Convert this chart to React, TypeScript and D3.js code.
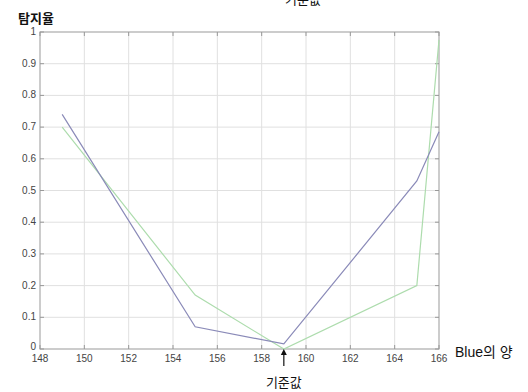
import * as d3 from "d3";
import { useEffect, useRef } from "react";

const blueX = [149, 155, 159, 165, 166];
const blueY = [0.74, 0.07, 0.016, 0.53, 0.685];
const greenX = [149, 155, 159, 165, 166];
const greenY = [0.7, 0.17, 0, 0.2, 0.975];
const xTicks = [148, 150, 152, 154, 156, 158, 160, 162, 164, 166];
const yTicks = [0, 0.1, 0.2, 0.3, 0.4, 0.5, 0.6, 0.7, 0.8, 0.9, 1];
const refValue = 159;

const App = () => {
  const width = 528;
  const height = 392;
  const margin = { top: 32, bottom: 43, right: 89, left: 40 };
  const svgRef = useRef(null);

  useEffect(() => {
    if (!svgRef.current) return;
    const svg = d3.select(svgRef.current);
    svg.selectAll("*").remove();

    const plotWidth = width - margin.left - margin.right;
    const plotHeight = height - margin.top - margin.bottom;
    const x = d3.scaleLinear([148, 166], [0, plotWidth]);
    const y = d3.scaleLinear([0, 1], [plotHeight, 0]);
    const font = "'Liberation Sans', Arial, sans-serif";
    const krFont = "'Liberation Sans', 'Noto Sans CJK KR', sans-serif";

    const plot = svg
      .append("g")
      .attr("transform", `translate(${margin.left}, ${margin.top})`);

    // grid
    plot
      .append("g")
      .selectAll("line")
      .data(xTicks.slice(1, -1))
      .join("line")
      .attr("x1", (d) => x(d))
      .attr("x2", (d) => x(d))
      .attr("y1", 0)
      .attr("y2", plotHeight)
      .attr("stroke", "#e0e0e0");
    plot
      .append("g")
      .selectAll("line")
      .data(yTicks.slice(1, -1))
      .join("line")
      .attr("y1", (d) => y(d))
      .attr("y2", (d) => y(d))
      .attr("x1", 0)
      .attr("x2", plotWidth)
      .attr("stroke", "#e0e0e0");

    // inward ticks on all sides
    const tickLen = 4;
    const tickColor = "#999";
    xTicks.forEach((t) => {
      plot.append("line").attr("x1", x(t)).attr("x2", x(t)).attr("y1", plotHeight).attr("y2", plotHeight - tickLen).attr("stroke", tickColor);
      plot.append("line").attr("x1", x(t)).attr("x2", x(t)).attr("y1", 0).attr("y2", tickLen).attr("stroke", tickColor);
    });
    yTicks.forEach((t) => {
      plot.append("line").attr("x1", 0).attr("x2", tickLen).attr("y1", y(t)).attr("y2", y(t)).attr("stroke", tickColor);
      plot.append("line").attr("x1", plotWidth).attr("x2", plotWidth - tickLen).attr("y1", y(t)).attr("y2", y(t)).attr("stroke", tickColor);
    });

    plot
      .append("rect")
      .attr("width", plotWidth)
      .attr("height", plotHeight)
      .attr("fill", "none")
      .attr("stroke", "#999");

    // tick labels
    plot
      .append("g")
      .selectAll("text")
      .data(xTicks)
      .join("text")
      .attr("x", (d) => x(d))
      .attr("y", plotHeight + 13)
      .attr("text-anchor", "middle")
      .attr("font-size", 10)
      .attr("font-family", font)
      .attr("fill", "#444")
      .text((d) => d);
    plot
      .append("g")
      .selectAll("text")
      .data(yTicks)
      .join("text")
      .attr("x", -4)
      .attr("y", (d) => y(d) + (d === 0 ? 1 : 3))
      .attr("text-anchor", "end")
      .attr("font-size", 10)
      .attr("font-family", font)
      .attr("fill", "#444")
      .text((d) => d);

    const drawSeries = (xs: number[], ys: number[], color: string) => {
      const pts = xs.map((v, i) => [v, ys[i]] as [number, number]);
      plot
        .append("path")
        .datum(pts)
        .attr("fill", "none")
        .attr("stroke", color)
        .attr("stroke-width", 1.2)
        .attr("d", d3.line<[number, number]>().x((d) => x(d[0])).y((d) => y(d[1])));
    };
    drawSeries(greenX, greenY, "#addcad");
    drawSeries(blueX, blueY, "#8a8ab8");

    // reference arrow
    const ax = x(refValue);
    plot
      .append("line")
      .attr("x1", ax)
      .attr("x2", ax)
      .attr("y1", plotHeight + 17)
      .attr("y2", plotHeight + 4)
      .attr("stroke", "#111")
      .attr("stroke-width", 1.2);
    plot
      .append("path")
      .attr("d", `M${ax - 3},${plotHeight + 6} L${ax},${plotHeight} L${ax + 3},${plotHeight + 6} Z`)
      .attr("fill", "#111");

    plot
      .append("text")
      .attr("x", ax)
      .attr("y", plotHeight + 38)
      .attr("text-anchor", "middle")
      .attr("font-size", 13)
      .attr("font-family", krFont)
      .attr("fill", "#111")
      .text("기준값");

    // title, cropped at the top edge as in the source image
    svg
      .append("text")
      .attr("x", 303)
      .attr("y", 4)
      .attr("text-anchor", "middle")
      .attr("font-size", 13)
      .attr("font-family", krFont)
      .attr("fill", "#111")
      .text("기준값");

    svg
      .append("text")
      .attr("x", 18)
      .attr("y", 23)
      .attr("font-size", 13)
      .attr("font-weight", "bold")
      .attr("font-family", krFont)
      .attr("fill", "#111")
      .text("탐지율");

    svg
      .append("text")
      .attr("x", 455)
      .attr("y", 357)
      .attr("font-size", 14)
      .attr("font-family", krFont)
      .attr("fill", "#111")
      .text("Blue의 양");
  }, []);

  return (
    <svg
      width={width}
      height={height}
      ref={svgRef}
      style={{ position: "absolute", left: 0, top: 0, background: "white" }}
    ></svg>
  );
};

export default App;
